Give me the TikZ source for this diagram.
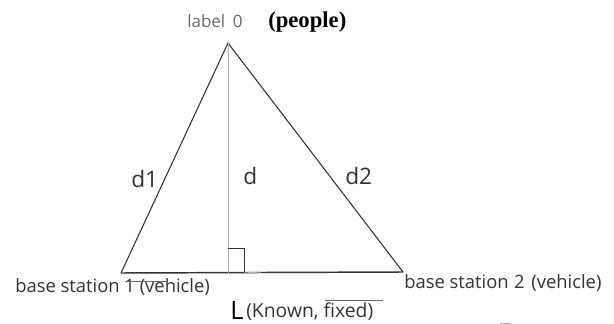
\documentclass[tikz,border=0pt]{standalone}
\usepackage{fontspec}
\setmainfont{Open Sans}
\newfontfamily\serifpeople{Liberation Serif}
\definecolor{inkdark}{HTML}{333333}
\definecolor{inkgray}{HTML}{6A6A6A}
\definecolor{altgray}{HTML}{B0B0B0}
\begin{document}
\begin{tikzpicture}[
        x=0.75pt, y=-0.75pt,
        txt/.style={inner sep=0pt, anchor=base west, text=inkdark},
        side/.style={draw=inkdark, line width=0.8pt},
        foot/.style={draw=altgray, line width=0.75pt}
      ]
      \useasboundingbox (0,0) rectangle (614,324);

      \coordinate (top) at (228,43);
      \coordinate (bs1) at (121,273);
      \coordinate (bs2) at (403,272);
      \coordinate (base) at (228,273);
      \coordinate (sqa) at (228,248);
      \coordinate (sqb) at (244,248);
      \coordinate (sqc) at (244,273);
      \coordinate (sqd) at (261,272);

      \node[txt, text=inkgray, font=\fontsize{12.75}{14}\selectfont] (lab) at (187,28) {label\hspace{0.45em}0};
      \node[txt, text=black, font=\serifpeople\bfseries\fontsize{17}{19}\selectfont] (people) at (268,28) {(people)};
      \node[txt, font=\fontsize{17}{19}\selectfont] (d1) at (131,188) {d1};
      \node[txt, font=\fontsize{17}{19}\selectfont] (d) at (243,185) {d};
      \node[txt, font=\fontsize{17}{19}\selectfont] (d2) at (345,185) {d2};
      \node[txt, font=\fontsize{13.8}{15}\selectfont] (st1) at (15,292) {base station 1 (vehicle)};
      \node[txt, font=\fontsize{13.8}{15}\selectfont] (st2) at (404,288) {base station\hspace{0.3em}2\hspace{0.1em} (vehicle)};
      \node[txt, text=black, font=\fontsize{19}{21}\selectfont] (len) at (230,319) {L};
      \node[txt, font=\fontsize{14.5}{16}\selectfont] (known) at (246,317) {(Known, fixed)};

      \draw[side] (bs1) -- (top) -- (bs2);
      \draw[draw=inkdark, line width=1.1pt] (bs1) -- (bs2);
      \draw[foot] (top) -- (base);
      \draw[draw=inkdark, line width=0.75pt] (sqa) -- (sqb) -- (sqc);
      \draw[foot] (sqc) -- (sqd);

      \draw[inkgray, line width=0.5pt] (125,281) -- (167,281);
      \draw[inkgray, line width=0.5pt] (325,300) -- (383,300);
      \draw[altgray, line width=0.6pt] (500,323) -- (510,323);
    \end{tikzpicture}
\end{document}
